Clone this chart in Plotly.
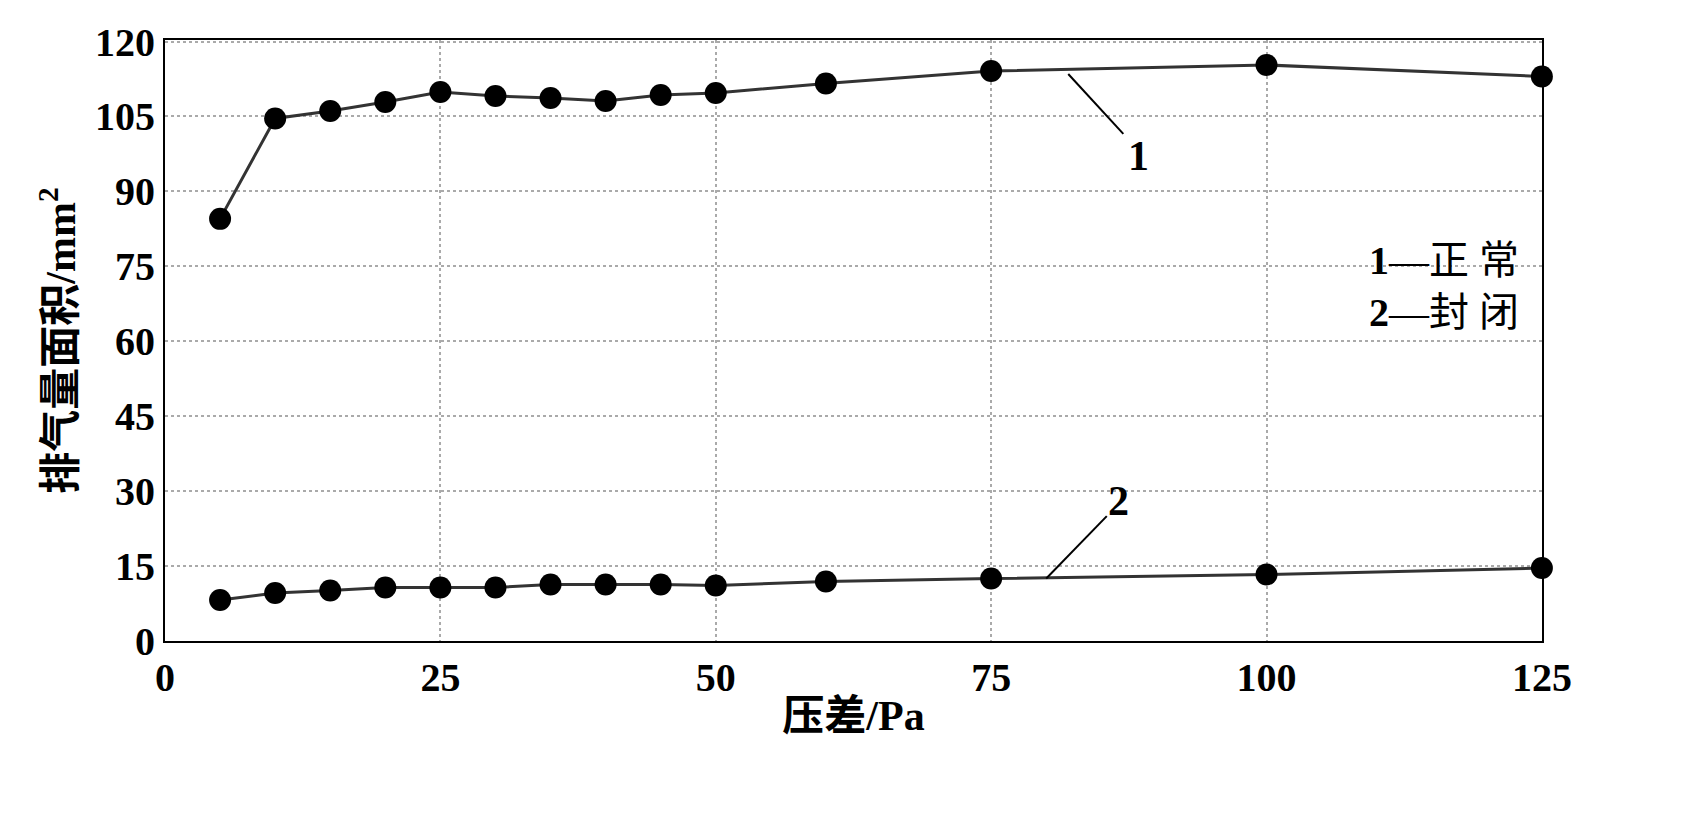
import plotly.graph_objects as go

x = [5, 10, 15, 20, 25, 30, 35, 40, 45, 50, 60, 75, 100, 125]
normal = [84.5, 104.6, 106.1, 107.9, 109.9, 109.1, 108.7, 108.1, 109.3, 109.7, 111.6, 114.1, 115.3, 113.0]
sealed = [8.2, 9.6, 10.1, 10.7, 10.7, 10.7, 11.3, 11.3, 11.3, 11.1, 11.9, 12.5, 13.3, 14.6]
xticks = [0, 25, 50, 75, 100, 125]
yticks = [0, 15, 30, 45, 60, 75, 90, 105, 120]

F = "Liberation Serif, Noto Sans CJK SC"
fig = go.Figure()
for y in (normal, sealed):
    fig.add_trace(go.Scatter(x=x, y=y, mode="lines+markers", cliponaxis=False,
        line=dict(color="#333", width=3),
        marker=dict(color="black", size=22), showlegend=False))

ax = dict(showline=True, linecolor="black", linewidth=2, mirror=True,
          gridcolor="#aaa", griddash="dot", gridwidth=2, ticks="",
          tickfont=dict(family=F, size=40, color="black", weight="bold"), zeroline=False)
fig.update_xaxes(range=[0, 125.01], tickvals=xticks, **ax,
    title=dict(text="压差/Pa", font=dict(family=F, size=42, color="black", weight="bold"), standoff=2))
fig.update_yaxes(range=[0, 120.3], tickvals=yticks, **ax,
    title=dict(text="排气量面积/mm<sup>2</sup>", font=dict(family=F, size=42, color="black", weight="bold"), standoff=6))

def lbl(t, xx, yy):
    fig.add_annotation(x=xx, y=yy, text="<b>"+t+"</b>", showarrow=False,
        font=dict(family=F, size=42, color="black"))
lbl("1", 88.4, 97)
lbl("2", 86.6, 28)
fig.add_shape(type="line", x0=82, y0=113.5, x1=87, y1=101.5, line=dict(color="black", width=2))
fig.add_shape(type="line", x0=80, y0=12.5, x1=85.5, y1=25, line=dict(color="black", width=2))
fig.add_annotation(x=0.985, y=0.59, xref="paper", yref="paper", xanchor="right",
    text="<b>1</b>—正 常<br><b>2</b>—封 闭", showarrow=False, align="left",
    font=dict(family=F, size=40, color="black"))

fig.update_layout(width=1702, height=820, plot_bgcolor="white", paper_bgcolor="white",
    margin=dict(l=157, r=168, t=24, b=187))
fig.write_html("out.html")
